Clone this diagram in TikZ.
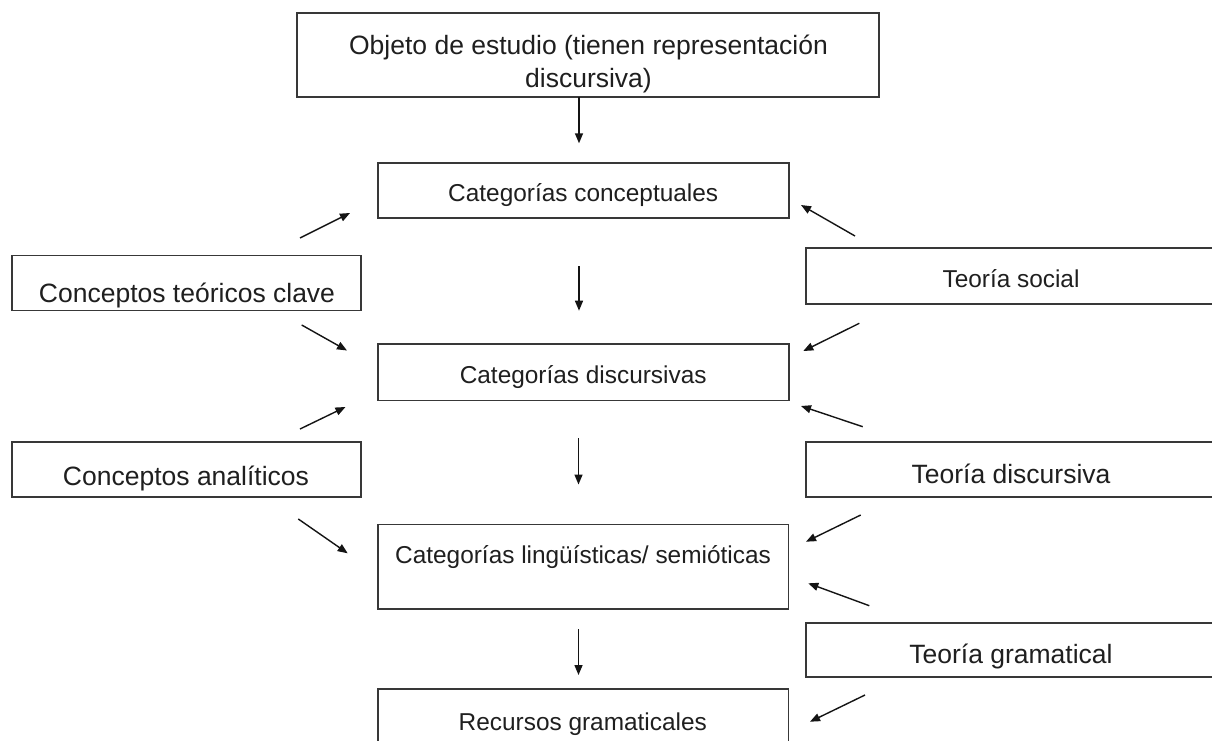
\documentclass[tikz,border=0pt]{standalone}
\usepackage{fontspec}
\setmainfont{Liberation Sans}
\usetikzlibrary{arrows.meta}
\begin{document}
\begin{tikzpicture}[x=1pt,y=-1pt,
  box/.style={draw=black!78, line width=1.8pt, inner sep=0pt},
  big/.style={inner sep=0pt, anchor=base, text=black!88, font=\fontsize{26.5}{33}\selectfont},
  small/.style={inner sep=0pt, anchor=base, text=black!88, font=\fontsize{24.4}{30}\selectfont},
  arr/.style={draw=black!92, line width=1.4pt, -{Triangle[length=10pt,width=8pt]}}]
\useasboundingbox (0,0) rectangle (1212,740);
\clip (0,0) rectangle (1212,740);
\fill[white] (0,0) rectangle (1212,740);

% boxes
\node[box, minimum width=581.7pt, minimum height=84.6pt] (obj) at (588.2,55.0) {};
\node[box, minimum width=411pt, minimum height=54.7pt] (cc) at (583.2,190.35) {};
\node[box, minimum width=411pt, minimum height=56.5pt] (cd) at (583.2,372.25) {};
\node[box, minimum width=410.8pt, minimum height=84.8pt] (cl) at (583.1,566.9) {};
\node[box, minimum width=410.8pt, minimum height=70.7pt] (rg) at (583.1,724.65) {};
\node[box, minimum width=348.7pt, minimum height=55pt] (ctc) at (186.35,283) {};
\node[box, minimum width=348.7pt, minimum height=54.5pt] (ca) at (186.35,469.55) {};
\node[box, minimum width=410pt, minimum height=56.6pt] (ts) at (1011,276) {};
\node[box, minimum width=410pt, minimum height=54.7pt] (td) at (1011,469.65) {};
\node[box, minimum width=410pt, minimum height=54pt] (tg) at (1011,650.3) {};

% texts
\node[big] (objt1) at (588.5,54.5) {Objeto de estudio (tienen representación};
\node[big] (objt2) at (588.5,87.5) {discursiva)};
\node[small] (cct) at (583.2,201.5) {Categorías conceptuales};
\node[small] (cdt) at (583.2,383) {Categorías discursivas};
\node[small] (clt) at (583.0,563.5) {Categorías lingüísticas/ semióticas};
\node[small] (rgt) at (582.8,730) {Recursos gramaticales};
\node[big] (ctct) at (187,302.5) {Conceptos teóricos clave};
\node[big] (cat) at (186,485.5) {Conceptos analíticos};
\node[small] (tst) at (1011,287) {Teoría social};
\node[big] (tdt) at (1011,483.5) {Teoría discursiva};
\node[big] (tgt) at (1011,663.5) {Teoría gramatical};

% arrow end points
\coordinate (v1s) at (579,97.3);   \coordinate (v1e) at (579,143.3);
\coordinate (v2s) at (579,266);    \coordinate (v2e) at (579,310.7);
\coordinate (v3s) at (578.5,438.3);\coordinate (v3e) at (578.5,484.5);
\coordinate (v4s) at (578.5,629.3);\coordinate (v4e) at (578.5,675);
\coordinate (a1s) at (300,238);    \coordinate (a1e) at (350,213);
\coordinate (a2s) at (301.7,325);  \coordinate (a2e) at (347,350.5);
\coordinate (a3s) at (300,429);    \coordinate (a3e) at (345.5,407);
\coordinate (a4s) at (298.3,519);  \coordinate (a4e) at (347.7,553.3);
\coordinate (b1s) at (855,236);    \coordinate (b1e) at (801,205);
\coordinate (b2s) at (859.3,323.3);\coordinate (b2e) at (803.3,351);
\coordinate (b3s) at (862.7,426.7);\coordinate (b3e) at (801,406);
\coordinate (b4s) at (860.7,515);  \coordinate (b4e) at (806,541.7);
\coordinate (b5s) at (869.3,605.7);\coordinate (b5e) at (808.3,583.3);
\coordinate (b6s) at (865,695);    \coordinate (b6e) at (810,721.7);

% connectors
\foreach \s/\e in {v1s/v1e,v2s/v2e,v3s/v3e,v4s/v4e,a1s/a1e,a2s/a2e,a3s/a3e,a4s/a4e,b1s/b1e,b2s/b2e,b3s/b3e,b4s/b4e,b5s/b5e,b6s/b6e}
  \draw[arr] (\s) -- (\e);
\end{tikzpicture}
\end{document}
